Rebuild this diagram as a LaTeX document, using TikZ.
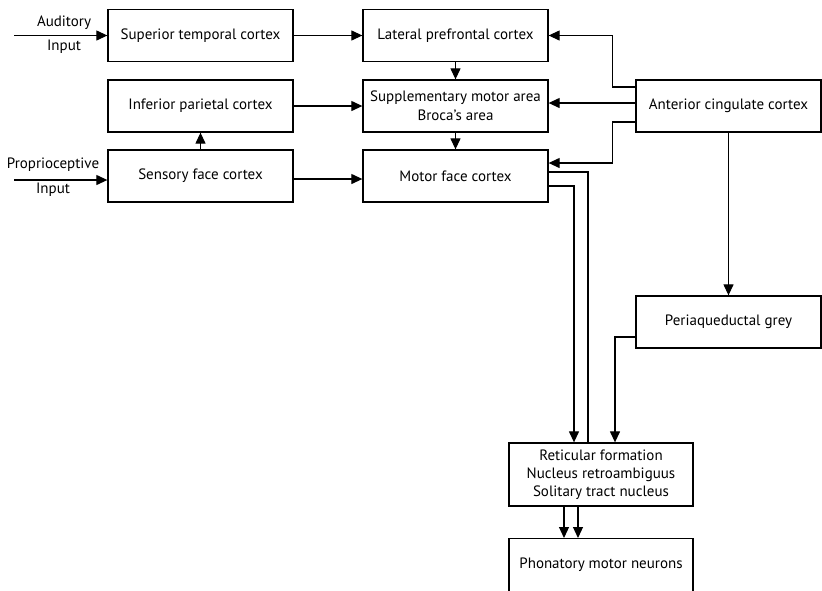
\documentclass[tikz,border=0pt]{standalone}
\usepackage{fontspec}
\setmainfont{PT Sans}
\usetikzlibrary{arrows.meta}
\begin{document}
\begin{tikzpicture}[x=1pt,y=-1pt,
  box/.style={draw, line width=1.3pt, minimum width=185pt, minimum height=52pt,
    align=center, inner sep=2pt, font=\fontsize{15}{19}\selectfont},
  lbl/.style={font=\fontsize{15}{19}\selectfont, inner sep=1pt},
  conn/.style={line width=1.2pt},
  arr/.style={conn, -{Triangle[length=11pt,width=10pt]}}]
\useasboundingbox (0,0) rectangle (822,590);
\clip (0,0) rectangle (822,590);

% cortical boxes
\node[box] (sup) at (200.5,35.5) {Superior temporal cortex};
\node[box] (lat) at (455.5,35.5) {Lateral prefrontal cortex};
\node[box] (inf) at (200.5,106) {Inferior parietal cortex};
\node[box] (sma) at (455.5,106) {Supplementary motor area\\Broca's area};
\node[box] (sen) at (200.5,176) {Sensory face cortex};
\node[box] (mot) at (455.5,176) {Motor face cortex};
\node[box] (acc) at (728.5,106) {Anterior cingulate cortex};

% brainstem boxes
\node[box] (pag) at (728.5,322) {Periaqueductal grey};
\node[box, minimum width=184pt, minimum height=63pt,
  font=\fontsize{15}{18}\selectfont] (ret) at (601,474.5)
  {Reticular formation\\Nucleus retroambiguus\\Solitary tract nucleus};
\node[box, minimum width=184pt, anchor=north, inner ysep=4pt,
  text height=26pt, text depth=30pt] (phon) at (601,538) {Phonatory motor neurons};

% external inputs
\coordinate (aud) at (14,35.5);
\coordinate (prop) at (14,180);
\draw[arr] (aud) -- (aud -| sup.west);
\node[lbl] (audA) at (64,23) {Auditory};
\node[lbl] (audB) at (64,47) {Input};
\draw[arr] (prop) -- (prop -| sen.west);
\node[lbl] (propA) at (53,165) {Proprioceptive};
\node[lbl] (propB) at (53,190) {Input};

% cortical connections
\draw[arr] (sup) -- (lat);
\draw[arr] (lat) -- (sma);
\draw[arr] (inf) -- (sma);
\draw[arr] (sen) -- (inf);
\draw[arr] (sma) -- (mot);
\draw[arr] ([yshift=-3pt]sen.east) -- ([yshift=-3pt]mot.west);

% anterior cingulate outputs
\draw[arr] ([yshift=19pt]acc.west) -- ++(-23,0) |- (lat.east);
\draw[arr] ([yshift=3pt]acc.west) -- ([yshift=3pt]sma.east);
\draw[arr] ([yshift=-16pt]acc.west) -- ++(-23,0) |- ([yshift=13pt]mot.east);
\draw[arr] (acc) -- (pag);

% descending pathways
\draw[conn] ([yshift=4pt]mot.east) -| ([xshift=-13pt]ret.north);
\draw[arr] ([yshift=-10pt]mot.east) -| ([xshift=-27pt]ret.north);
\draw[arr] ([yshift=-15pt]pag.west) -| ([xshift=14pt]ret.north);
\draw[arr] ([xshift=-37pt]ret.south) -- ([xshift=-37pt]phon.north);
\draw[arr] ([xshift=-23pt]ret.south) -- ([xshift=-23pt]phon.north);
\end{tikzpicture}
\end{document}
